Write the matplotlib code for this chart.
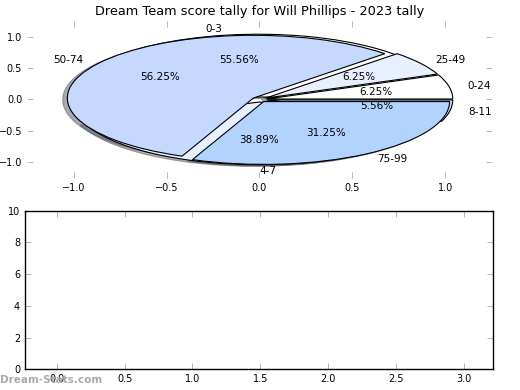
import matplotlib
matplotlib.use("Agg")
import matplotlib.pyplot as plt

title = "Dream Team score tally for Will Phillips - 2023 tally"

# Pie 1: score bands by 4
labels_small = ["0-3", "4-7", "8-11"]
counts_small = [10, 7, 1]

# Pie 2: score bands by 25
labels_big = ["0-24", "25-49", "50-74", "75-99"]
counts_big = [1, 1, 9, 5]

colors = ["#ffffff", "#e8f0ff", "#c5d8fe", "#b3d3ff"]

x_ticks_top = [-1.0, -0.5, 0.0, 0.5, 1.0]
y_ticks_top = [-1.0, -0.5, 0.0, 0.5, 1.0]
x_ticks_bottom = [0.0, 0.5, 1.0, 1.5, 2.0, 2.5, 3.0]
y_ticks_bottom = [0, 2, 4, 6, 8, 10]

fig = plt.figure(figsize=(5.2, 3.9), dpi=100)

ax1 = fig.add_axes([0.052, 0.5436, 0.894, 0.4026])
ax2 = fig.add_axes([0.048, 0.053, 0.900, 0.407])

wp = dict(edgecolor="black", linewidth=0.8)
tp = dict(fontsize=7.5)
shadow = dict(ox=-0.018, oy=-0.018, shade=0.6)

ax1.pie(counts_small, labels=labels_small, colors=colors[:len(counts_small)],
        autopct="%1.2f%%", shadow=shadow, explode=[0.04] * len(counts_small),
        wedgeprops=wp, textprops=tp)
ax1.pie(counts_big, labels=labels_big, colors=colors[:len(counts_big)],
        autopct="%1.2f%%", shadow=shadow, explode=[0.04] * len(counts_big),
        wedgeprops=wp, textprops=tp)

ax1.set_aspect("auto")
ax1.set_frame_on(False)
ax1.set_xlim(-1.25, 1.25)
ax1.set_ylim(-1.25, 1.25)
ax1.set_xticks(x_ticks_top)
ax1.set_yticks(y_ticks_top)
ax1.tick_params(direction="in", length=4, width=0.5, labelsize=7,
                top=True, right=True, color="#999999")
ax1.set_title(title, fontsize=9.3, pad=4)

ax2.set_xlim(-0.235, 3.215)
ax2.set_ylim(0, 10)
ax2.set_xticks(x_ticks_bottom)
ax2.set_yticks(y_ticks_bottom)
ax2.tick_params(direction="in", length=4, width=0.5, labelsize=7,
                top=True, right=True, color="#999999")
for s in ax2.spines.values():
    s.set_linewidth(1.0)

fig.text(0.0, 0.025, "Dream-Stats.com", fontsize=7.5, fontweight="bold",
         color="#aaaaaa", ha="left", va="center")

fig.savefig("out.png", dpi=100)
